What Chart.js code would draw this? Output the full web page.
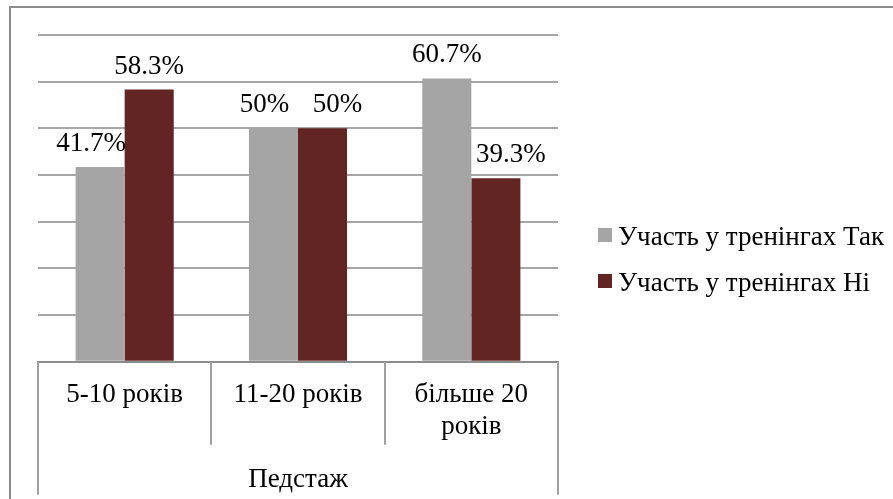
<!DOCTYPE html>
<html>
<head>
<meta charset="utf-8">
<script src="https://cdn.jsdelivr.net/npm/chart.js@4.4.1/dist/chart.umd.min.js"></script>
<style>
  html, body { margin: 0; padding: 0; background: #fff; }
  #wrap { position: relative; width: 893px; height: 499px; overflow: hidden; }
  #frame { position: absolute; left: 9px; top: 6px; width: 1000px; height: 1000px;
           border-top: 2px solid #8c8c8c; border-left: 2px solid #8c8c8c; }
  canvas { position: absolute; left: 0; top: 0; }
</style>
</head>
<body>
<div id="wrap">
  <div id="frame"></div>
  <canvas id="chart" width="893" height="499"></canvas>
</div>
<script>
// chart data
const categories = ['5-10 років', '11-20 років', ['більше 20', 'років']];
const seriesNames = ['Участь у тренінгах Так', 'Участь у тренінгах Ні'];
const valuesYes = [41.7, 50, 60.7];
const valuesNo = [58.3, 50, 39.3];
const yTicks = [0, 10, 20, 30, 40, 50, 60, 70];
const axisTitle = 'Педстаж';

const FONT = '"Liberation Serif", "Times New Roman", serif';
const colors = ['#a5a5a5', '#632523'];

// labels above bars, category dividers and the legend
const decorPlugin = {
    id: 'decor',
    afterDatasetsDraw(chart) {
        const ctx = chart.ctx;
        const area = chart.chartArea;
        const xScale = chart.scales.x;
        const datasets = chart.data.datasets;

        ctx.save();
        ctx.font = '27px ' + FONT;
        ctx.fillStyle = '#000';
        ctx.textAlign = 'center';
        ctx.textBaseline = 'alphabetic';
        datasets.forEach((ds, di) => {
            const meta = chart.getDatasetMeta(di);
            const other = datasets[1 - di];
            meta.data.forEach((bar, i) => {
                // push the label away from a sibling bar that is as tall or taller
                let shift = 0;
                if (other.data[i] >= ds.data[i]) shift = di === 0 ? -9 : 15;
                ctx.fillText(ds.data[i] + '%', bar.x + shift, bar.y - 16);
            });
        });

        ctx.strokeStyle = '#a0a0a0';
        ctx.lineWidth = 2;
        const n = chart.data.labels.length;
        for (let i = 0; i <= n; i++) {
            const px = Math.round(xScale.getPixelForValue(i - 0.5));
            const outer = i === 0 || i === n;
            ctx.beginPath();
            ctx.moveTo(px, area.bottom);
            ctx.lineTo(px, area.bottom + (outer ? 133 : 83));
            ctx.stroke();
        }

        ctx.textAlign = 'left';
        datasets.forEach((ds, di) => {
            const y = 235 + di * 46;
            ctx.fillStyle = ds.backgroundColor;
            ctx.fillRect(area.right + 40, y - 7, 14, 14);
            ctx.fillStyle = '#000';
            ctx.fillText(ds.label, area.right + 60, y + 10);
        });
        ctx.restore();
    }
};

new Chart(document.getElementById('chart'), {
    type: 'bar',
    data: {
        labels: categories,
        datasets: [
            { label: seriesNames[0], data: valuesYes, backgroundColor: colors[0] },
            { label: seriesNames[1], data: valuesNo, backgroundColor: colors[1] }
        ]
    },
    options: {
        responsive: false,
        animation: false,
        events: [],
        categoryPercentage: 0.566,
        barPercentage: 1,
        layout: { padding: { left: 38, right: 335, top: 35, bottom: 0 } },
        plugins: { legend: { display: false }, tooltip: { enabled: false } },
        scales: {
            x: {
                grid: { display: false, drawTicks: false },
                border: { display: true, color: '#8c8c8c', width: 2 },
                ticks: {
                    color: '#000',
                    font: { family: FONT, size: 27, lineHeight: 1.2 },
                    padding: 17,
                    maxRotation: 0,
                    autoSkip: false
                },
                title: {
                    display: true,
                    text: axisTitle,
                    color: '#000',
                    font: { family: FONT, size: 27 },
                    padding: { top: 3, bottom: 3 }
                }
            },
            y: {
                min: yTicks[0],
                max: yTicks[yTicks.length - 1],
                ticks: { display: false, stepSize: yTicks[1] - yTicks[0] },
                grid: { color: '#a6a6a6', lineWidth: 2, drawTicks: false },
                border: { display: false }
            }
        }
    },
    plugins: [decorPlugin]
});
</script>
</body>
</html>
